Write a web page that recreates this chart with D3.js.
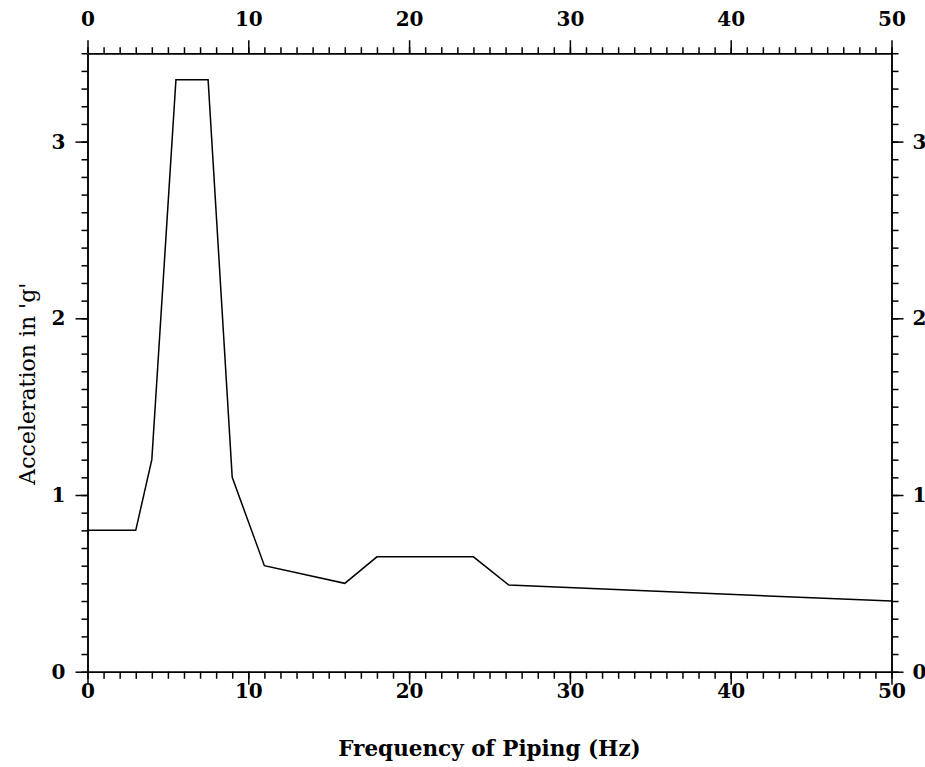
<!DOCTYPE html>
<html>
<head>
<meta charset="utf-8">
<script src="https://cdn.jsdelivr.net/npm/d3@7"></script>
<style>
  body { margin: 0; background: #fff; }
  svg text { font-family: "DejaVu Serif", "Liberation Serif", serif; }
  .axis path, .axis line { stroke: #000; stroke-width: 1.5; }
</style>
</head>
<body>
<div id="chart"></div>
<script>
// values
const freq  = [0, 3, 4, 5.5, 7.5, 9, 11, 16, 18, 24, 26.2, 50]
const accel = [0.8, 0.8, 1.2, 3.35, 3.35, 1.1, 0.6, 0.5, 0.65, 0.65, 0.49, 0.4]
const xTicks = [0, 10, 20, 30, 40, 50]
const yTicks = [0, 1, 2, 3]

const W = 925, H = 767
const margin = { top: 53.25, right: 33.5, bottom: 95.3, left: 87.5 },
  width = W - margin.left - margin.right,
  height = H - margin.top - margin.bottom

const svg = d3.select('#chart').append('svg')
  .attr('width', W)
  .attr('height', H)
  .append('g')
  .attr('transform', 'translate(' + margin.left + ',' + margin.top + ')')

const x = d3.scaleLinear().domain([0, 50]).range([0, width])
const y = d3.scaleLinear().domain([0, 3.5]).range([height, 0])

const xMinor = d3.range(0, 50.01, 1)
const yMinor = d3.range(0, 3.501, 0.1)

// minor ticks first, then major ticks with labels
function addAxis(axisFn, scale, transform, minor, major, majLen, minLen) {
  svg.append('g').attr('class', 'axis').attr('transform', transform)
    .call(axisFn(scale).tickValues(minor).tickSize(minLen).tickSizeOuter(0).tickFormat(''))
  return svg.append('g').attr('class', 'axis').attr('transform', transform)
    .call(axisFn(scale).tickValues(major).tickSize(majLen).tickSizeOuter(0).tickPadding(6).tickFormat(d3.format('d')))
}

const axBottom = addAxis(d3.axisBottom, x, 'translate(0,' + height + ')', xMinor, xTicks, 13, 7)
const axTop = addAxis(d3.axisTop, x, null, xMinor, xTicks, 13, 6)
const axLeft = addAxis(d3.axisLeft, y, null, yMinor, yTicks, 12, 6)
const axRight = addAxis(d3.axisRight, y, 'translate(' + width + ',0)', yMinor, yTicks, 12, 7)

svg.selectAll('.axis text')
  .style('font-size', '20px')
  .style('font-weight', 'bold')
  .attr('fill', '#000')

axBottom.selectAll('text').attr('y', 26).attr('dy', '0em')
axTop.selectAll('text').attr('y', -27).attr('dy', '0em')
axLeft.selectAll('text').attr('x', -22)
axRight.selectAll('text').attr('x', 21)

// line
svg.append('path')
  .datum(freq.map((f, i) => [f, accel[i]]))
  .attr('fill', 'none')
  .attr('stroke', '#000')
  .attr('stroke-width', 1.5)
  .attr('d', d3.line().x(d => x(d[0])).y(d => y(d[1])))

// axis titles
svg.append('text')
  .attr('x', width / 2)
  .attr('y', height + 84)
  .attr('text-anchor', 'middle')
  .style('font-size', '21.5px')
  .style('font-weight', 'bold')
  .text('Frequency of Piping (Hz)')

svg.append('text')
  .attr('transform', 'translate(' + (-margin.left + 35) + ',' + y(1.63) + ') rotate(-90)')
  .attr('text-anchor', 'middle')
  .style('font-size', '22px')
  .text("Acceleration in 'g'")
</script>
</body>
</html>
